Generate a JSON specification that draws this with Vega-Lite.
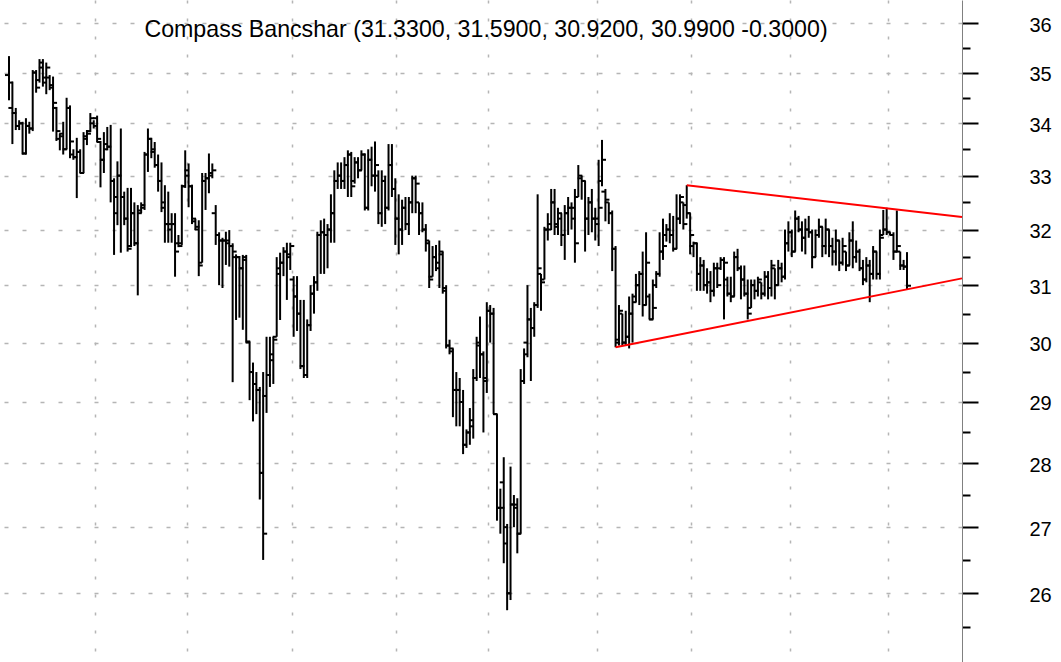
{
"$schema": "https://vega.github.io/schema/vega-lite/v6.json",
"width": 962, "height": 662,
"autosize": {"type": "none"},
"padding": {"left": 0, "top": 0, "right": 99, "bottom": 0},
"background": "white",
"config": {"view": {"stroke": null}, "font": "Liberation Sans"},
"title": {"text": "Compass Bancshar (31.3300, 31.5900, 30.9200, 30.9900 -0.3000)", "font": "Liberation Sans", "fontSize": 23.2, "fontWeight": "normal", "color": "black", "anchor": "middle", "frame": "group", "offset": -60, "baseline": "alphabetic", "dx": 5},
"datasets": {
"bars": [
{"i":0,"o":34.95,"h":35.33,"l":34.45,"c":34.8},
{"i":1,"o":34.3,"h":34.82,"l":33.6,"c":34.2},
{"i":2,"o":34.2,"h":34.3,"l":33.87,"c":33.95},
{"i":3,"o":33.95,"h":34.06,"l":33.87,"c":34.0},
{"i":4,"o":34.0,"h":34.03,"l":33.4,"c":33.42},
{"i":5,"o":33.42,"h":34.1,"l":33.4,"c":33.95},
{"i":6,"o":33.95,"h":34.03,"l":33.8,"c":33.9},
{"i":7,"o":33.9,"h":35.05,"l":33.85,"c":35.0},
{"i":8,"o":35.0,"h":35.05,"l":34.6,"c":34.7},
{"i":9,"o":34.85,"h":35.27,"l":34.8,"c":35.2},
{"i":10,"o":35.1,"h":35.27,"l":34.72,"c":34.9},
{"i":11,"o":34.8,"h":35.2,"l":34.57,"c":35.1},
{"i":12,"o":34.9,"h":34.95,"l":34.65,"c":34.7},
{"i":13,"o":34.75,"h":34.92,"l":33.84,"c":34.4},
{"i":14,"o":34.3,"h":34.32,"l":33.66,"c":33.85},
{"i":15,"o":33.7,"h":33.8,"l":33.48,"c":33.75},
{"i":16,"o":33.8,"h":34.03,"l":33.4,"c":33.5},
{"i":17,"o":33.5,"h":34.5,"l":33.5,"c":34.3},
{"i":18,"o":34.3,"h":34.35,"l":33.33,"c":33.65},
{"i":19,"o":33.4,"h":33.5,"l":33.3,"c":33.35},
{"i":20,"o":33.35,"h":33.72,"l":32.58,"c":33.45},
{"i":21,"o":33.45,"h":33.5,"l":33.05,"c":33.05},
{"i":22,"o":33.05,"h":33.83,"l":33.05,"c":33.7},
{"i":23,"o":33.75,"h":33.87,"l":33.58,"c":33.8},
{"i":24,"o":33.85,"h":34.2,"l":33.83,"c":34.1},
{"i":25,"o":34.0,"h":34.06,"l":33.9,"c":33.95},
{"i":26,"o":34.1,"h":34.15,"l":33.64,"c":33.7},
{"i":27,"o":33.64,"h":33.66,"l":32.78,"c":33.3},
{"i":28,"o":33.3,"h":33.83,"l":33.05,"c":33.6},
{"i":29,"o":33.5,"h":33.93,"l":33.48,"c":33.55},
{"i":30,"o":33.55,"h":33.97,"l":32.5,"c":32.9},
{"i":31,"o":32.9,"h":32.95,"l":31.54,"c":32.6},
{"i":32,"o":32.3,"h":33.27,"l":32.08,"c":33.0},
{"i":33,"o":33.0,"h":33.9,"l":31.58,"c":32.6},
{"i":34,"o":32.6,"h":32.7,"l":32.08,"c":32.2},
{"i":35,"o":32.2,"h":32.77,"l":31.6,"c":31.65},
{"i":36,"o":31.7,"h":32.77,"l":31.68,"c":32.3},
{"i":37,"o":32.3,"h":32.5,"l":31.7,"c":31.75},
{"i":38,"o":31.75,"h":32.45,"l":30.82,"c":32.3},
{"i":39,"o":32.35,"h":32.5,"l":32.3,"c":32.45},
{"i":40,"o":32.4,"h":33.45,"l":32.36,"c":33.4},
{"i":41,"o":33.4,"h":33.9,"l":33.07,"c":33.7},
{"i":42,"o":33.7,"h":33.72,"l":33.33,"c":33.5},
{"i":43,"o":33.45,"h":33.64,"l":33.15,"c":33.2},
{"i":44,"o":33.2,"h":33.4,"l":32.7,"c":32.9},
{"i":45,"o":32.9,"h":33.25,"l":32.32,"c":32.5},
{"i":46,"o":32.4,"h":32.82,"l":31.76,"c":32.1},
{"i":47,"o":32.1,"h":32.7,"l":31.76,"c":32.1},
{"i":48,"o":32.0,"h":32.3,"l":31.76,"c":32.1},
{"i":49,"o":32.1,"h":32.3,"l":31.15,"c":31.6},
{"i":50,"o":31.75,"h":31.9,"l":31.68,"c":31.7},
{"i":51,"o":31.75,"h":32.83,"l":31.72,"c":32.8},
{"i":52,"o":32.8,"h":33.48,"l":32.77,"c":33.0},
{"i":53,"o":33.1,"h":33.23,"l":32.41,"c":32.8},
{"i":54,"o":32.8,"h":32.83,"l":32.1,"c":32.2},
{"i":55,"o":32.15,"h":32.2,"l":31.99,"c":32.05},
{"i":56,"o":32.0,"h":32.17,"l":31.16,"c":31.35},
{"i":57,"o":31.4,"h":33.05,"l":31.4,"c":32.9},
{"i":58,"o":32.9,"h":33.05,"l":32.36,"c":32.95},
{"i":59,"o":32.95,"h":33.42,"l":32.67,"c":33.0},
{"i":60,"o":33.05,"h":33.23,"l":32.95,"c":33.1},
{"i":61,"o":32.3,"h":32.45,"l":31.72,"c":31.9},
{"i":62,"o":31.9,"h":31.95,"l":31.0,"c":31.8},
{"i":63,"o":31.8,"h":31.85,"l":30.95,"c":31.8},
{"i":64,"o":31.8,"h":31.96,"l":31.36,"c":31.75},
{"i":65,"o":31.8,"h":31.99,"l":31.33,"c":31.7},
{"i":66,"o":31.7,"h":31.75,"l":29.33,"c":31.6},
{"i":67,"o":31.5,"h":31.55,"l":30.39,"c":31.5},
{"i":68,"o":31.5,"h":31.52,"l":30.43,"c":31.3},
{"i":69,"o":31.3,"h":31.54,"l":30.22,"c":31.5},
{"i":70,"o":31.45,"h":31.54,"l":30.0,"c":30.02},
{"i":71,"o":30.0,"h":30.02,"l":29.03,"c":29.5},
{"i":72,"o":29.5,"h":29.66,"l":28.68,"c":29.3},
{"i":73,"o":29.3,"h":29.5,"l":28.8,"c":29.2},
{"i":74,"o":29.2,"h":29.25,"l":27.43,"c":27.85},
{"i":75,"o":27.85,"h":29.5,"l":26.5,"c":26.9},
{"i":76,"o":29.1,"h":30.1,"l":28.82,"c":29.45},
{"i":77,"o":29.45,"h":30.1,"l":29.25,"c":29.7},
{"i":78,"o":29.8,"h":30.1,"l":29.3,"c":30.05},
{"i":79,"o":30.1,"h":31.5,"l":30.1,"c":31.2},
{"i":80,"o":31.3,"h":31.58,"l":30.39,"c":31.4},
{"i":81,"o":31.4,"h":31.68,"l":31.16,"c":31.6},
{"i":82,"o":31.6,"h":31.76,"l":30.74,"c":31.5},
{"i":83,"o":31.55,"h":31.76,"l":31.27,"c":31.7},
{"i":84,"o":31.1,"h":31.16,"l":30.1,"c":30.8},
{"i":85,"o":30.8,"h":31.16,"l":30.2,"c":30.5},
{"i":86,"o":30.5,"h":30.74,"l":29.55,"c":29.6},
{"i":87,"o":29.6,"h":30.74,"l":29.4,"c":29.45},
{"i":88,"o":29.45,"h":30.4,"l":29.4,"c":30.3},
{"i":89,"o":30.3,"h":31.0,"l":30.2,"c":30.85},
{"i":90,"o":30.85,"h":31.16,"l":30.5,"c":31.05},
{"i":91,"o":31.05,"h":31.96,"l":30.9,"c":31.9},
{"i":92,"o":31.9,"h":32.17,"l":31.2,"c":31.95},
{"i":93,"o":31.95,"h":32.2,"l":31.2,"c":31.9},
{"i":94,"o":31.9,"h":32.1,"l":31.3,"c":32.0},
{"i":95,"o":32.0,"h":32.65,"l":31.76,"c":32.3},
{"i":96,"o":32.3,"h":33.1,"l":31.76,"c":32.9},
{"i":97,"o":32.9,"h":33.25,"l":32.75,"c":33.0},
{"i":98,"o":33.0,"h":33.25,"l":32.75,"c":32.9},
{"i":99,"o":32.9,"h":33.35,"l":32.75,"c":33.2},
{"i":100,"o":33.2,"h":33.48,"l":32.6,"c":33.4},
{"i":101,"o":33.4,"h":33.45,"l":32.6,"c":32.8},
{"i":102,"o":32.9,"h":33.35,"l":32.85,"c":33.25},
{"i":103,"o":33.25,"h":33.35,"l":32.95,"c":33.1},
{"i":104,"o":33.1,"h":33.48,"l":33.1,"c":33.4},
{"i":105,"o":33.4,"h":33.42,"l":32.35,"c":32.4},
{"i":106,"o":32.4,"h":33.5,"l":32.35,"c":33.3},
{"i":107,"o":33.3,"h":33.55,"l":32.8,"c":33.0},
{"i":108,"o":33.0,"h":33.65,"l":32.7,"c":33.2},
{"i":109,"o":33.0,"h":33.1,"l":32.1,"c":32.3},
{"i":110,"o":32.3,"h":33.1,"l":32.05,"c":32.9},
{"i":111,"o":32.9,"h":33.0,"l":32.1,"c":32.4},
{"i":112,"o":32.4,"h":33.6,"l":32.35,"c":33.2},
{"i":113,"o":33.2,"h":33.6,"l":32.6,"c":32.75},
{"i":114,"o":32.75,"h":32.95,"l":31.72,"c":32.2},
{"i":115,"o":32.2,"h":32.65,"l":31.55,"c":32.0},
{"i":116,"o":32.0,"h":32.55,"l":31.72,"c":32.4},
{"i":117,"o":32.4,"h":32.6,"l":31.99,"c":32.1},
{"i":118,"o":32.1,"h":32.6,"l":31.9,"c":32.5},
{"i":119,"o":32.5,"h":33.0,"l":32.3,"c":32.95},
{"i":120,"o":32.95,"h":33.0,"l":32.3,"c":32.85},
{"i":121,"o":32.5,"h":32.5,"l":31.9,"c":32.3},
{"i":122,"o":32.3,"h":32.5,"l":31.95,"c":32.0},
{"i":123,"o":32.0,"h":32.1,"l":31.6,"c":31.75},
{"i":124,"o":31.8,"h":31.8,"l":30.95,"c":31.1},
{"i":125,"o":31.15,"h":31.7,"l":31.15,"c":31.5},
{"i":126,"o":31.5,"h":31.72,"l":31.25,"c":31.3},
{"i":127,"o":31.4,"h":31.8,"l":30.95,"c":31.6},
{"i":128,"o":31.55,"h":31.6,"l":30.85,"c":30.95},
{"i":129,"o":30.9,"h":31.0,"l":29.9,"c":29.95},
{"i":130,"o":29.95,"h":30.05,"l":29.8,"c":29.9},
{"i":131,"o":29.85,"h":29.9,"l":28.75,"c":29.2},
{"i":132,"o":29.2,"h":29.5,"l":28.6,"c":29.2},
{"i":133,"o":29.2,"h":29.4,"l":28.6,"c":29.0},
{"i":134,"o":29.0,"h":29.2,"l":28.15,"c":28.3},
{"i":135,"o":28.3,"h":28.55,"l":28.25,"c":28.5},
{"i":136,"o":28.5,"h":28.9,"l":28.3,"c":28.7},
{"i":137,"o":28.6,"h":29.55,"l":28.4,"c":29.4},
{"i":138,"o":29.4,"h":30.1,"l":29.35,"c":29.95},
{"i":139,"o":30.0,"h":30.45,"l":29.4,"c":29.8},
{"i":140,"o":29.8,"h":29.85,"l":28.5,"c":29.35},
{"i":141,"o":29.4,"h":30.7,"l":29.15,"c":30.55},
{"i":142,"o":30.55,"h":30.65,"l":30.0,"c":30.5},
{"i":143,"o":30.5,"h":30.6,"l":28.8,"c":28.8},
{"i":144,"o":28.8,"h":28.8,"l":27.1,"c":27.3},
{"i":145,"o":27.3,"h":27.6,"l":26.9,"c":27.3},
{"i":146,"o":27.7,"h":28.1,"l":26.45,"c":27.0},
{"i":147,"o":26.75,"h":27.05,"l":25.75,"c":26.0},
{"i":148,"o":26.0,"h":27.95,"l":25.9,"c":27.35},
{"i":149,"o":27.35,"h":27.5,"l":27.0,"c":27.3},
{"i":150,"o":27.35,"h":27.45,"l":26.6,"c":26.9},
{"i":151,"o":26.9,"h":29.55,"l":26.9,"c":29.35},
{"i":152,"o":29.35,"h":29.9,"l":29.3,"c":29.8},
{"i":153,"o":30.0,"h":31.0,"l":29.75,"c":30.4},
{"i":154,"o":30.4,"h":30.6,"l":29.35,"c":30.25},
{"i":155,"o":30.25,"h":30.7,"l":30.1,"c":30.65},
{"i":156,"o":30.65,"h":32.65,"l":30.6,"c":31.3},
{"i":157,"o":31.2,"h":31.2,"l":30.55,"c":31.05},
{"i":158,"o":31.1,"h":32.05,"l":31.1,"c":32.0},
{"i":159,"o":32.0,"h":32.3,"l":31.8,"c":32.1},
{"i":160,"o":32.0,"h":32.75,"l":31.99,"c":32.5},
{"i":161,"o":32.5,"h":32.75,"l":31.9,"c":32.05},
{"i":162,"o":32.1,"h":32.4,"l":31.9,"c":32.3},
{"i":163,"o":32.2,"h":32.3,"l":31.7,"c":31.9},
{"i":164,"o":31.9,"h":32.45,"l":31.45,"c":32.3},
{"i":165,"o":32.3,"h":32.6,"l":31.9,"c":32.4},
{"i":166,"o":32.4,"h":32.5,"l":32.0,"c":32.2},
{"i":167,"o":32.4,"h":32.75,"l":31.4,"c":31.75},
{"i":168,"o":32.6,"h":33.2,"l":32.6,"c":33.0},
{"i":169,"o":32.95,"h":33.0,"l":32.55,"c":32.9},
{"i":170,"o":32.9,"h":32.9,"l":31.6,"c":32.2},
{"i":171,"o":32.2,"h":32.6,"l":31.9,"c":32.5},
{"i":172,"o":32.5,"h":32.75,"l":31.95,"c":32.2},
{"i":173,"o":32.2,"h":32.4,"l":31.8,"c":32.1},
{"i":174,"o":32.2,"h":33.3,"l":31.7,"c":32.4},
{"i":175,"o":32.9,"h":33.68,"l":32.8,"c":33.3},
{"i":176,"o":32.7,"h":32.75,"l":32.15,"c":32.55},
{"i":177,"o":32.5,"h":32.5,"l":32.1,"c":32.3},
{"i":178,"o":32.3,"h":32.35,"l":31.25,"c":31.65},
{"i":179,"o":31.65,"h":31.7,"l":29.92,"c":30.0},
{"i":180,"o":30.05,"h":30.65,"l":29.95,"c":30.55},
{"i":181,"o":30.5,"h":30.5,"l":29.95,"c":30.0},
{"i":182,"o":30.0,"h":30.55,"l":29.95,"c":30.1},
{"i":183,"o":30.1,"h":30.8,"l":29.9,"c":30.5},
{"i":184,"o":30.5,"h":30.85,"l":30.0,"c":30.7},
{"i":185,"o":30.8,"h":31.2,"l":30.7,"c":31.0},
{"i":186,"o":31.0,"h":31.25,"l":30.65,"c":31.2},
{"i":187,"o":31.2,"h":31.6,"l":30.45,"c":30.65},
{"i":188,"o":30.65,"h":31.95,"l":30.65,"c":31.4},
{"i":189,"o":30.8,"h":30.85,"l":30.4,"c":30.4},
{"i":190,"o":30.4,"h":31.1,"l":30.4,"c":30.6},
{"i":191,"o":31.0,"h":31.25,"l":30.95,"c":31.2},
{"i":192,"o":31.2,"h":31.95,"l":31.15,"c":31.6},
{"i":193,"o":31.6,"h":32.2,"l":31.45,"c":31.7},
{"i":194,"o":31.9,"h":32.1,"l":31.78,"c":32.0},
{"i":195,"o":32.0,"h":32.3,"l":31.75,"c":31.9},
{"i":196,"o":31.9,"h":32.25,"l":31.6,"c":31.65},
{"i":197,"o":31.65,"h":32.65,"l":31.65,"c":32.2},
{"i":198,"o":32.2,"h":32.65,"l":32.1,"c":32.6},
{"i":199,"o":32.5,"h":32.5,"l":32.0,"c":32.1},
{"i":200,"o":32.45,"h":32.82,"l":32.2,"c":32.3},
{"i":201,"o":32.3,"h":32.3,"l":31.55,"c":31.9},
{"i":202,"o":31.7,"h":31.78,"l":31.5,"c":31.75},
{"i":203,"o":31.75,"h":31.76,"l":30.9,"c":31.2},
{"i":204,"o":31.2,"h":31.5,"l":30.9,"c":31.35},
{"i":205,"o":31.35,"h":31.45,"l":30.9,"c":31.0},
{"i":206,"o":31.0,"h":31.3,"l":30.85,"c":31.05},
{"i":207,"o":31.05,"h":31.25,"l":30.7,"c":30.9},
{"i":208,"o":30.9,"h":31.4,"l":30.8,"c":31.3},
{"i":209,"o":31.3,"h":31.4,"l":30.95,"c":31.0},
{"i":210,"o":31.3,"h":31.5,"l":31.27,"c":31.45},
{"i":211,"o":31.45,"h":31.5,"l":30.4,"c":31.4},
{"i":212,"o":31.1,"h":31.15,"l":30.8,"c":30.85},
{"i":213,"o":30.85,"h":31.15,"l":30.7,"c":30.8},
{"i":214,"o":30.8,"h":31.6,"l":30.8,"c":31.5},
{"i":215,"o":31.5,"h":31.65,"l":31.25,"c":31.3},
{"i":216,"o":31.3,"h":31.35,"l":30.75,"c":31.1},
{"i":217,"o":31.1,"h":31.35,"l":30.8,"c":30.85},
{"i":218,"o":30.85,"h":31.1,"l":30.4,"c":30.5},
{"i":219,"o":30.6,"h":31.1,"l":30.6,"c":31.0},
{"i":220,"o":31.0,"h":31.1,"l":30.75,"c":30.9},
{"i":221,"o":30.9,"h":31.15,"l":30.8,"c":31.1},
{"i":222,"o":31.05,"h":31.05,"l":30.75,"c":30.85},
{"i":223,"o":30.85,"h":31.25,"l":30.8,"c":31.15},
{"i":224,"o":31.15,"h":31.25,"l":30.75,"c":30.95},
{"i":225,"o":30.95,"h":31.45,"l":30.8,"c":31.35},
{"i":226,"o":31.3,"h":31.3,"l":30.75,"c":31.0},
{"i":227,"o":31.0,"h":31.45,"l":31.0,"c":31.3},
{"i":228,"o":31.3,"h":31.4,"l":31.05,"c":31.15},
{"i":229,"o":31.15,"h":32.0,"l":31.1,"c":31.75},
{"i":230,"o":31.75,"h":32.15,"l":31.6,"c":31.95},
{"i":231,"o":31.95,"h":32.0,"l":31.5,"c":31.6},
{"i":232,"o":31.6,"h":32.35,"l":31.6,"c":32.2},
{"i":233,"o":32.2,"h":32.25,"l":31.95,"c":32.0},
{"i":234,"o":32.0,"h":32.15,"l":31.6,"c":31.85},
{"i":235,"o":31.85,"h":32.2,"l":31.55,"c":32.0},
{"i":236,"o":32.0,"h":32.25,"l":31.85,"c":31.95},
{"i":237,"o":31.95,"h":32.0,"l":31.3,"c":31.5},
{"i":238,"o":31.5,"h":32.0,"l":31.5,"c":31.9},
{"i":239,"o":31.9,"h":32.2,"l":31.85,"c":32.05},
{"i":240,"o":32.05,"h":32.05,"l":31.5,"c":31.7},
{"i":241,"o":31.7,"h":32.2,"l":31.55,"c":32.0},
{"i":242,"o":32.0,"h":32.0,"l":31.5,"c":31.7},
{"i":243,"o":31.7,"h":31.85,"l":31.35,"c":31.6},
{"i":244,"o":31.6,"h":32.0,"l":31.35,"c":31.8},
{"i":245,"o":31.8,"h":31.8,"l":31.25,"c":31.4},
{"i":246,"o":31.4,"h":31.85,"l":31.35,"c":31.7},
{"i":247,"o":31.6,"h":31.6,"l":31.25,"c":31.35},
{"i":248,"o":31.35,"h":31.95,"l":31.35,"c":31.8},
{"i":249,"o":31.8,"h":32.15,"l":31.3,"c":31.5},
{"i":250,"o":31.5,"h":31.8,"l":31.4,"c":31.6},
{"i":251,"o":31.6,"h":31.65,"l":31.25,"c":31.3},
{"i":252,"o":31.3,"h":31.45,"l":31.0,"c":31.1},
{"i":253,"o":31.1,"h":31.5,"l":31.05,"c":31.35},
{"i":254,"o":31.35,"h":31.45,"l":30.7,"c":31.2},
{"i":255,"o":31.2,"h":31.7,"l":31.1,"c":31.6},
{"i":256,"o":31.6,"h":31.6,"l":31.1,"c":31.2},
{"i":257,"o":31.2,"h":32.0,"l":31.1,"c":31.85},
{"i":258,"o":31.9,"h":32.36,"l":31.9,"c":32.0},
{"i":259,"o":32.0,"h":32.4,"l":31.9,"c":31.95},
{"i":260,"o":31.95,"h":31.95,"l":31.9,"c":31.9},
{"i":261,"o":31.9,"h":31.95,"l":31.45,"c":31.6},
{"i":262,"o":31.6,"h":32.35,"l":31.6,"c":31.7},
{"i":263,"o":31.6,"h":31.6,"l":31.27,"c":31.35},
{"i":264,"o":31.35,"h":31.45,"l":31.27,"c":31.33},
{"i":265,"o":31.33,"h":31.59,"l":30.92,"c":30.99}
],
"trend": [
{"line":"upper","i":200,"p":32.82},
{"line":"upper","i":281.23,"p":32.23},
{"line":"lower","i":179,"p":29.92},
{"line":"lower","i":281.23,"p":31.12}
]
},
"encoding": {
"x": {"field": "i", "type": "quantitative",
 "scale": {"domain": [-2.656, 281.23], "nice": false, "zero": false},
 "axis": {"values": [25.4, 52.5, 83.5, 114.2, 141.4, 173.5, 201.3, 230.5, 259.4], "grid": true, "labels": false, "ticks": false, "domain": false, "title": null, "gridColor": "#b5b5b5", "gridWidth": 1.5, "gridDash": [3, 15]}}
},
"layer": [
{"data": {"name": "bars"},
 "mark": {"type": "rule", "color": "black", "strokeWidth": 2},
 "encoding": {
  "y": {"field": "l", "type": "quantitative",
   "scale": {"type": "log", "domain": [25, 36.48], "nice": false, "zero": false},
   "axis": {"orient": "right", "title": null,
    "values": [25.5,26,26.5,27,27.5,28,28.5,29,29.5,30,30.5,31,31.5,32,32.5,33,33.5,34,34.5,35,35.5,36],
    "domainColor": "#808080", "domainWidth": 1,
    "tickColor": "black", "tickWidth": 2,
    "tickSize": {"condition": {"test": "datum.value % 1 === 0", "value": 16}, "value": 8},
    "labelExpr": "datum.value % 1 === 0 ? '' + datum.value : ''",
    "labelFont": "Liberation Sans", "labelFontSize": 20, "labelColor": "black",
    "labelPadding": 51, "labelAlign": "left", "labelBaseline": "middle", "labelOffset": 2,
    "labelOverlap": false, "labelFlush": false, "labelBound": false,
    "grid": true, "gridColor": "#b5b5b5", "gridWidth": 1.5, "gridDash": [4, 14],
    "gridOpacity": {"condition": {"test": "datum.value % 1 === 0", "value": 1}, "value": 0}}},
  "y2": {"field": "h"}
 }},
{"data": {"name": "bars"},
 "mark": {"type": "tick", "orient": "horizontal", "color": "black", "opacity": 1, "thickness": 2, "size": 4, "xOffset": -2},
 "encoding": {"y": {"field": "o", "type": "quantitative", "axis": {"title": null}}}},
{"data": {"name": "bars"},
 "mark": {"type": "tick", "orient": "horizontal", "color": "black", "opacity": 1, "thickness": 2, "size": 4, "xOffset": 2},
 "encoding": {"y": {"field": "c", "type": "quantitative", "axis": {"title": null}}}},
{"data": {"name": "trend"},
 "mark": {"type": "line", "color": "#ff0000", "strokeWidth": 2},
 "encoding": {"y": {"field": "p", "type": "quantitative", "axis": {"title": null}}, "detail": {"field": "line"}}}
]
}
